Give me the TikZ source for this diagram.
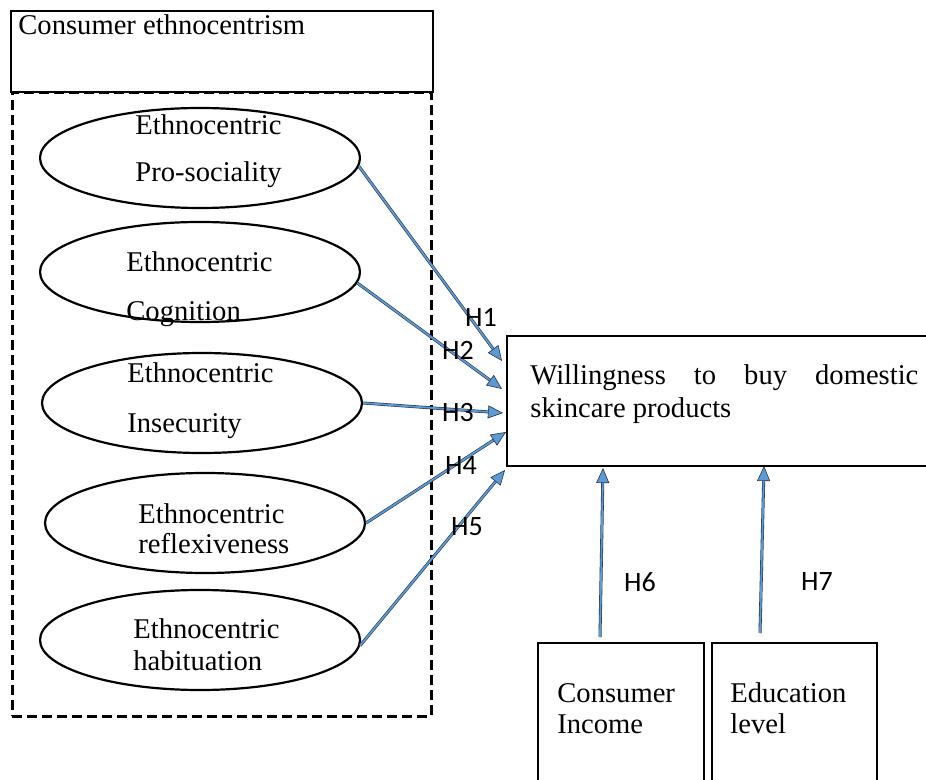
\documentclass[tikz,border=0pt]{standalone}
\usepackage{fontspec}
\setmainfont{Liberation Serif}
\newfontfamily\hfont{Carlito}
\usetikzlibrary{shapes.geometric,arrows.meta}
\definecolor{arrowblue}{RGB}{91,155,213}
\definecolor{arrowedge}{RGB}{40,50,70}
\tikzset{
  txt/.style={anchor=base west, inner sep=0pt, font=\fontsize{14.3pt}{17pt}\selectfont},
  hlab/.style={inner sep=0pt, font=\hfont\fontsize{14pt}{16.8pt}\selectfont},
  oval/.style={draw, line width=1.1pt, ellipse, minimum width=160pt, minimum height=50pt, inner sep=0pt},
  box/.style={draw, line width=1.1pt, rectangle, anchor=north west, inner sep=0pt},
  conn/.style={draw=arrowedge, line width=0.3pt, double=arrowblue, double distance=0.9pt,
    -{Triangle[length=7.5pt,width=6.5pt,fill=arrowblue]}},
}
\begin{document}
\begin{tikzpicture}[x=0.5pt,y=-0.5pt]
\useasboundingbox (0,0) rectangle (926,780);
\clip (0,0) rectangle (926,780);
% dashed frame
\node[draw, dash pattern=on 5pt off 2.5pt, line width=1.4pt, rectangle, anchor=north west,
  minimum width=209.5pt, minimum height=312pt, inner sep=0pt] (frame) at (11,91) {};
% top box
\node[box, fill=white, minimum width=211pt, minimum height=40.5pt] (ce) at (10,10) {};
\node[txt] (cet) at (18,35) {Consumer ethnocentrism};
% ellipses
\node[oval] (e1) at (200,158) {};
\node[oval] (e2) at (200,272) {};
\node[oval] (e3) at (202,403) {};
\node[oval] (e4) at (205,523) {};
\node[oval] (e5) at (200,640) {};
\node[txt] (e1a) at (135,135) {Ethnocentric};
\node[txt] (e1b) at (135,182) {Pro-sociality};
\node[txt] (e2a) at (126,272) {Ethnocentric};
\node[txt] (e2b) at (126,321) {Cognition};
\node[txt] (e3a) at (127,383) {Ethnocentric};
\node[txt] (e3b) at (127,432) {Insecurity};
\node[txt] (e4a) at (138,523) {Ethnocentric};
\node[txt] (e4b) at (138,553) {reflexiveness};
\node[txt] (e5a) at (133,638) {Ethnocentric};
\node[txt] (e5b) at (133,670) {habituation};
% outcome box
\node[box, minimum width=215pt, minimum height=65pt] (will) at (506,335) {};
\node[txt] (w1) at (530,385) {\makebox[194pt][s]{Willingness to buy domestic}};
\node[txt] (w2) at (530,418) {skincare products};
% moderators
\node[box, minimum width=83pt, minimum height=80pt] (inc) at (537,642) {};
\node[box, minimum width=82.5pt, minimum height=80pt] (edu) at (711,642) {};
\node[txt] (inca) at (557,702) {Consumer};
\node[txt] (incb) at (557,733) {Income};
\node[txt] (edua) at (730,702) {Education};
\node[txt] (edub) at (730,733) {level};
% arrow end points
\coordinate (p1) at (502,361);
\coordinate (p2) at (502,389);
\coordinate (p3) at (503,413);
\coordinate (p4) at (506,432);
\coordinate (p5) at (505,470);
\coordinate (p6) at (603,468);
\coordinate (p7) at (764,466);
\coordinate (s6) at (600,637);
\coordinate (s7) at (760,633);
% connectors
\draw[conn] (e1.-3) -- (p1);
\draw[conn] (e2.-4) -- (p2);
\draw[conn] (e3.east) -- (p3);
\draw[conn] (e4.east) -- (p4);
\draw[conn] (e5.-2) -- (p5);
\draw[conn] (s6) -- (p6);
\draw[conn] (s7) -- (p7);
% labels
\node[hlab] (h1) at (481,317) {H1};
\node[hlab] (h2) at (458,350) {H2};
\node[hlab] (h3) at (458,413) {H3};
\node[hlab] (h4) at (461,466) {H4};
\node[hlab] (h5) at (467,527) {H5};
\node[hlab] (h6) at (640,582) {H6};
\node[hlab] (h7) at (817,582) {H7};
\end{tikzpicture}
\end{document}
